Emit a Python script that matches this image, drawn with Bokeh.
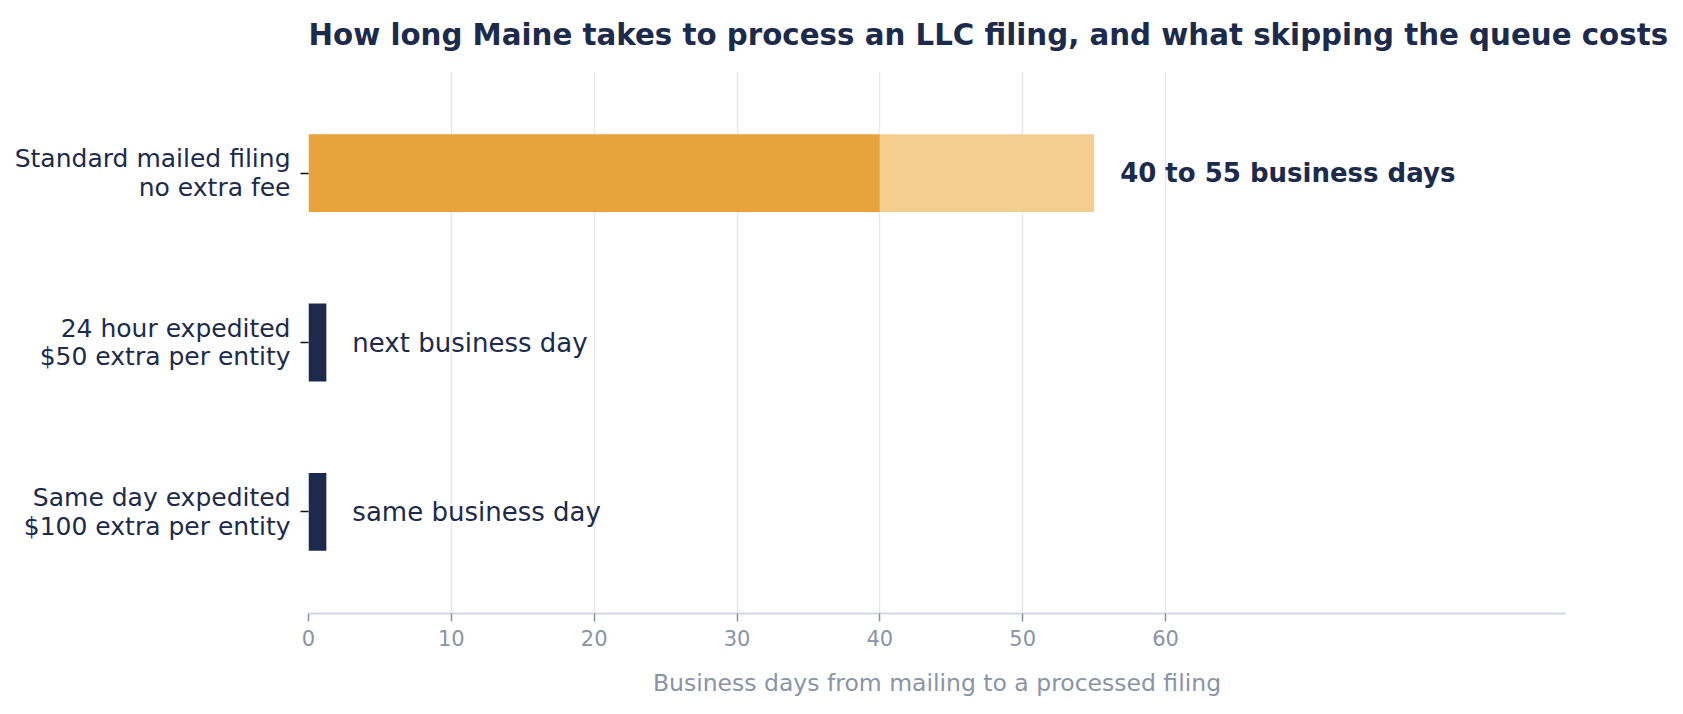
from bokeh.plotting import figure
from bokeh.models import ColumnDataSource, FixedTicker, FactorRange
from bokeh.core.properties import value
from bokeh.embed import file_html
from bokeh.resources import INLINE

# filing options, top to bottom
options = [
    "Standard mailed filing\nno extra fee",
    "24 hour expedited\n$50 extra per entity",
    "Same day expedited\n$100 extra per entity",
]
low_days = [40, 1.25, 1.25]
high_days = [55, 1.25, 1.25]
labels = ["40 to 55 business days", "next business day", "same business day"]
x_ticks = [0, 10, 20, 30, 40, 50, 60]

NAVY = "#1c2b4b"
ORANGE = "#e8a33d"
LIGHT_ORANGE = "#f5cd8f"
GREY = "#8a94a6"
FONT = "DejaVu Sans"

source = ColumnDataSource(data={
    "option": options,
    "low": low_days,
    "high": high_days,
    "label": labels,
    "color": [ORANGE, NAVY, NAVY],
    "weight": ["bold", "normal", "normal"],
})

p = figure(
    frame_width=1257, frame_height=542,
    y_range=FactorRange(factors=list(reversed(options)), range_padding=0.1,
                        range_padding_units="absolute"),
    x_range=(0, 88),
    title="How long Maine takes to process an LLC filing, and what skipping the queue costs",
    toolbar_location=None,
    output_backend="svg",
    min_border_left=308, min_border_right=110, min_border_top=0, min_border_bottom=10,
)

p.hbar(y="option", left=0, right="low", height=0.46, fill_color="color",
       line_color=None, source=source)
p.hbar(y="option", left="low", right="high", height=0.46, fill_color=LIGHT_ORANGE,
       line_color=None, source=source)

p.text(x="high", y="option", text="label", source=source, x_offset=26,
       text_font=value(FONT), text_font_size="26px", text_font_style="weight",
       text_color=NAVY, text_baseline="middle", text_align="left")

p.title.text_font = FONT
p.title.text_font_size = "29.3px"
p.title.text_color = NAVY
p.title.text_font_style = "bold"
p.title.align = "left"
p.title.vertical_align = "top"
p.title.text_line_height = 0.85
p.title.offset = 0
p.title.standoff = 35

p.outline_line_color = None
p.ygrid.grid_line_color = None
p.xgrid.grid_line_color = "#e6e8ee"
p.xgrid.grid_line_width = 1.5
p.xgrid.ticker = FixedTicker(ticks=x_ticks)

p.xaxis.ticker = FixedTicker(ticks=x_ticks)
p.xaxis.axis_label = "Business days from mailing to a processed filing"
p.xaxis.axis_label_text_font = FONT
p.xaxis.axis_label_text_font_size = "23.5px"
p.xaxis.axis_label_text_font_style = "normal"
p.xaxis.axis_label_text_color = GREY
p.xaxis.axis_label_standoff = 20
p.xaxis.axis_line_color = "#d5d8e2"
p.xaxis.axis_line_width = 2
p.xaxis.major_tick_line_color = GREY
p.xaxis.major_tick_line_width = 1.5
p.xaxis.major_tick_out = 8
p.xaxis.major_tick_in = 0
p.xaxis.minor_tick_line_color = None
p.xaxis.major_label_text_font = FONT
p.xaxis.major_label_text_font_size = "21px"
p.xaxis.major_label_text_color = GREY
p.xaxis.major_label_standoff = 8

p.yaxis.axis_line_color = None
p.yaxis.major_tick_line_color = "#111111"
p.yaxis.major_tick_line_width = 1.5
p.yaxis.major_tick_out = 8
p.yaxis.major_tick_in = 0
p.yaxis.major_label_text_font = FONT
p.yaxis.major_label_text_font_size = "25px"
p.yaxis.major_label_text_color = NAVY
p.yaxis.major_label_text_line_height = 0.98
p.yaxis.major_label_standoff = 10

open("out.html", "w").write(file_html(p, INLINE))
